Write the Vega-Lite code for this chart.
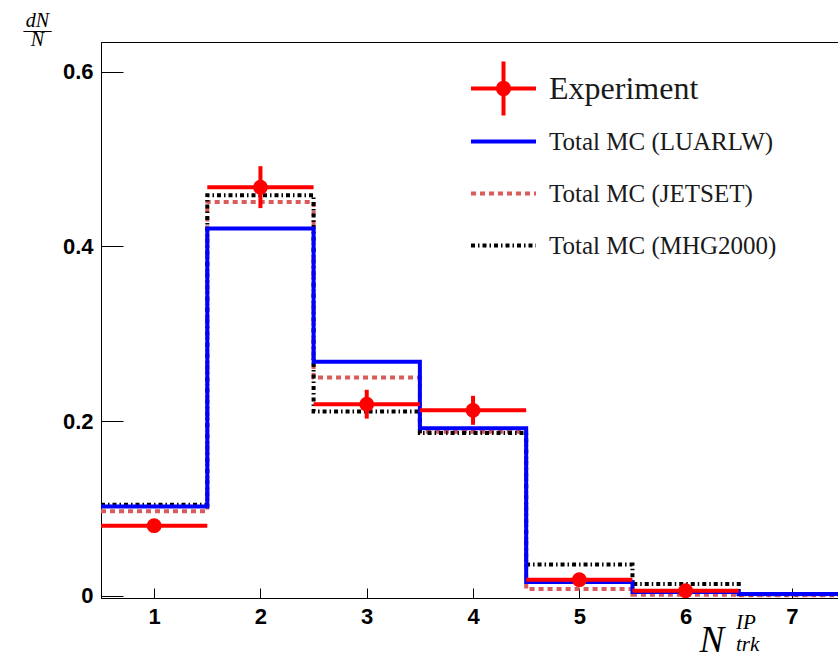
{
  "$schema": "https://vega.github.io/schema/vega-lite/v6.json",
  "width": 738,
  "height": 556,
  "autosize": "none",
  "padding": {"left": 101, "top": 42, "right": -1, "bottom": 60},
  "background": "white",
  "config": {
    "view": {"stroke": "black", "strokeWidth": 1},
    "axis": {
      "domainColor": "black",
      "tickColor": "black",
      "labelColor": "black",
      "titleColor": "black",
      "labelFont": "Liberation Sans",
      "labelFontWeight": "bold",
      "labelFontSize": 22,
      "grid": false
    }
  },
  "title": {
    "text": "IP",
    "subtitle": "trk",
    "orient": "bottom",
    "anchor": "start",
    "frame": "group",
    "offset": 0,
    "dx": 635,
    "dy": -46,
    "font": "Liberation Serif",
    "fontStyle": "italic",
    "fontWeight": "normal",
    "fontSize": 21,
    "color": "black",
    "subtitleFont": "Liberation Serif",
    "subtitleFontStyle": "italic",
    "subtitleFontSize": 21,
    "subtitleColor": "black",
    "subtitlePadding": 1
  },
  "datasets": {
    "mc": [
      {"series": "Total MC (JETSET)", "lo": 0.5, "y": 0.097},
      {"series": "Total MC (JETSET)", "lo": 1.5, "y": 0.451},
      {"series": "Total MC (JETSET)", "lo": 2.5, "y": 0.25},
      {"series": "Total MC (JETSET)", "lo": 3.5, "y": 0.188},
      {"series": "Total MC (JETSET)", "lo": 4.5, "y": 0.008},
      {"series": "Total MC (JETSET)", "lo": 5.5, "y": 0.0015},
      {"series": "Total MC (JETSET)", "lo": 6.5, "y": 0.0008},
      {"series": "Total MC (JETSET)", "lo": 7.5, "y": 0.0004},
      {"series": "Total MC (MHG2000)", "lo": 0.5, "y": 0.1045},
      {"series": "Total MC (MHG2000)", "lo": 1.5, "y": 0.4587},
      {"series": "Total MC (MHG2000)", "lo": 2.5, "y": 0.211},
      {"series": "Total MC (MHG2000)", "lo": 3.5, "y": 0.1864},
      {"series": "Total MC (MHG2000)", "lo": 4.5, "y": 0.0359},
      {"series": "Total MC (MHG2000)", "lo": 5.5, "y": 0.0138},
      {"series": "Total MC (MHG2000)", "lo": 6.5, "y": 0.002},
      {"series": "Total MC (MHG2000)", "lo": 7.5, "y": 0.001},
      {"series": "Total MC (LUARLW)", "lo": 0.5, "y": 0.1025},
      {"series": "Total MC (LUARLW)", "lo": 1.5, "y": 0.4207},
      {"series": "Total MC (LUARLW)", "lo": 2.5, "y": 0.268},
      {"series": "Total MC (LUARLW)", "lo": 3.5, "y": 0.192},
      {"series": "Total MC (LUARLW)", "lo": 4.5, "y": 0.016},
      {"series": "Total MC (LUARLW)", "lo": 5.5, "y": 0.0047},
      {"series": "Total MC (LUARLW)", "lo": 6.5, "y": 0.0022},
      {"series": "Total MC (LUARLW)", "lo": 7.5, "y": 0.001}
    ],
    "exp": [
      {"series": "Experiment", "n": 1, "lo": 0.5, "hi": 1.5, "y": 0.0805, "ymin": 0.0745, "ymax": 0.0865},
      {"series": "Experiment", "n": 2, "lo": 1.5, "hi": 2.5, "y": 0.4679, "ymin": 0.4439, "ymax": 0.4919},
      {"series": "Experiment", "n": 3, "lo": 2.5, "hi": 3.5, "y": 0.2195, "ymin": 0.2030, "ymax": 0.2360},
      {"series": "Experiment", "n": 4, "lo": 3.5, "hi": 4.5, "y": 0.2125, "ymin": 0.1959, "ymax": 0.2291},
      {"series": "Experiment", "n": 5, "lo": 4.5, "hi": 5.5, "y": 0.0187, "ymin": 0.0147, "ymax": 0.0227},
      {"series": "Experiment", "n": 6, "lo": 5.5, "hi": 6.5, "y": 0.006, "ymin": 0.003, "ymax": 0.009}
    ]
  },
  "resolve": {"scale": {"color": "independent"}, "legend": {"color": "independent"}},
  "layer": [
    {
      "data": {"name": "mc"},
      "mark": {"type": "line", "interpolate": "step-after", "strokeWidth": 4, "strokeCap": "butt", "clip": true},
      "encoding": {
        "x": {
          "field": "lo",
          "type": "quantitative",
          "scale": {"domain": [0.5, 7.443], "nice": false, "zero": false},
          "axis": {
            "values": [1, 2, 3, 4, 5, 6, 7],
            "format": "d",
            "tickSize": -10,
            "labelPadding": 18,
            "title": "N",
            "titleFont": "Liberation Serif",
            "titleFontStyle": "italic",
            "titleFontWeight": "normal",
            "titleFontSize": 37,
            "titleAlign": "left",
            "titleBaseline": "alphabetic",
            "titleAnchor": null,
            "titleX": 598,
            "titleY": 53
          }
        },
        "y": {
          "field": "y",
          "type": "quantitative",
          "scale": {"domain": [-0.0023, 0.634], "nice": false, "zero": false},
          "axis": {
            "values": [0, 0.2, 0.4, 0.6],
            "format": ".1~f",
            "tickSize": -22,
            "labelPadding": 30,
            "title": ["dN", "—–", "N"],
            "titleFont": "Liberation Serif",
            "titleFontStyle": "italic",
            "titleFontWeight": "normal",
            "titleFontSize": 20,
            "titleLineHeight": 9.5,
            "titleAngle": 0,
            "titleAlign": "center",
            "titleBaseline": "alphabetic",
            "titleAnchor": null,
            "titleX": -64,
            "titleY": -15.5
          }
        },
        "color": {
          "field": "series",
          "type": "nominal",
          "scale": {
            "domain": ["Total MC (LUARLW)", "Total MC (JETSET)", "Total MC (MHG2000)"],
            "range": ["#0000ff", "#d95b5b", "#000000"]
          },
          "legend": {
            "orient": "none",
            "legendX": 384,
            "legendY": 81,
            "title": null,
            "padding": 0,
            "symbolSize": 1056,
            "symbolStrokeWidth": 4,
            "labelFont": "Liberation Serif",
            "labelFontSize": 25,
            "labelColor": "#1a1a1a",
            "labelOffset": 27,
            "rowPadding": 20,
            "labelLimit": 400,
            "encode": {
              "symbols": {
                "update": {
                  "shape": {"signal": "'M-2,0H2'"},
                  "strokeDash": {"signal": "datum.value === 'Total MC (JETSET)' ? [5,4] : datum.value === 'Total MC (MHG2000)' ? [4,3,1.5,3] : [1,0]"},
                  "stroke": {"signal": "datum.value === 'Total MC (JETSET)' ? '#d95b5b' : datum.value === 'Total MC (MHG2000)' ? '#000000' : '#0000ff'"},
                  "strokeWidth": {"value": 4},
                  "opacity": {"value": 1}
                }
              }
            }
          }
        },
        "strokeDash": {
          "field": "series",
          "type": "nominal",
          "scale": {
            "domain": ["Total MC (LUARLW)", "Total MC (JETSET)", "Total MC (MHG2000)"],
            "range": [[1, 0], [5, 4], [4, 3, 1.5, 3]]
          },
          "legend": null
        }
      }
    },
    {
      "data": {"name": "exp"},
      "encoding": {
        "color": {
          "field": "series",
          "type": "nominal",
          "scale": {"domain": ["Experiment"], "range": ["#ff0000"]},
          "legend": {
            "orient": "none",
            "legendX": 384,
            "legendY": 28,
            "title": null,
            "padding": 0,
            "symbolSize": 1056,
            "labelFont": "Liberation Serif",
            "labelFontSize": 32,
            "labelColor": "#1a1a1a",
            "labelOffset": 27,
            "labelLimit": 400,
            "encode": {
              "symbols": {
                "update": {
                  "shape": {"signal": "'M-2,0H2M0,-1.66V1.66M0.35,0A0.35,0.35 0 1,1 -0.35,0A0.35,0.35 0 1,1 0.35,0Z'"},
                  "fill": {"signal": "'#ff0000'"},
                  "stroke": {"signal": "'#ff0000'"},
                  "strokeWidth": {"value": 4},
                  "opacity": {"value": 1}
                }
              }
            }
          }
        }
      },
      "layer": [
        {
          "mark": {"type": "rule", "strokeWidth": 4, "strokeCap": "butt"},
          "encoding": {
            "x": {"field": "lo", "type": "quantitative"},
            "x2": {"field": "hi"},
            "y": {"field": "y", "type": "quantitative"}
          }
        },
        {
          "mark": {"type": "rule", "strokeWidth": 4, "strokeCap": "butt"},
          "encoding": {
            "x": {"field": "n", "type": "quantitative"},
            "y": {"field": "ymin", "type": "quantitative"},
            "y2": {"field": "ymax"}
          }
        },
        {
          "mark": {"type": "point", "filled": true, "size": 220, "opacity": 1},
          "encoding": {
            "x": {"field": "n", "type": "quantitative"},
            "y": {"field": "y", "type": "quantitative"}
          }
        }
      ]
    }
  ]
}
